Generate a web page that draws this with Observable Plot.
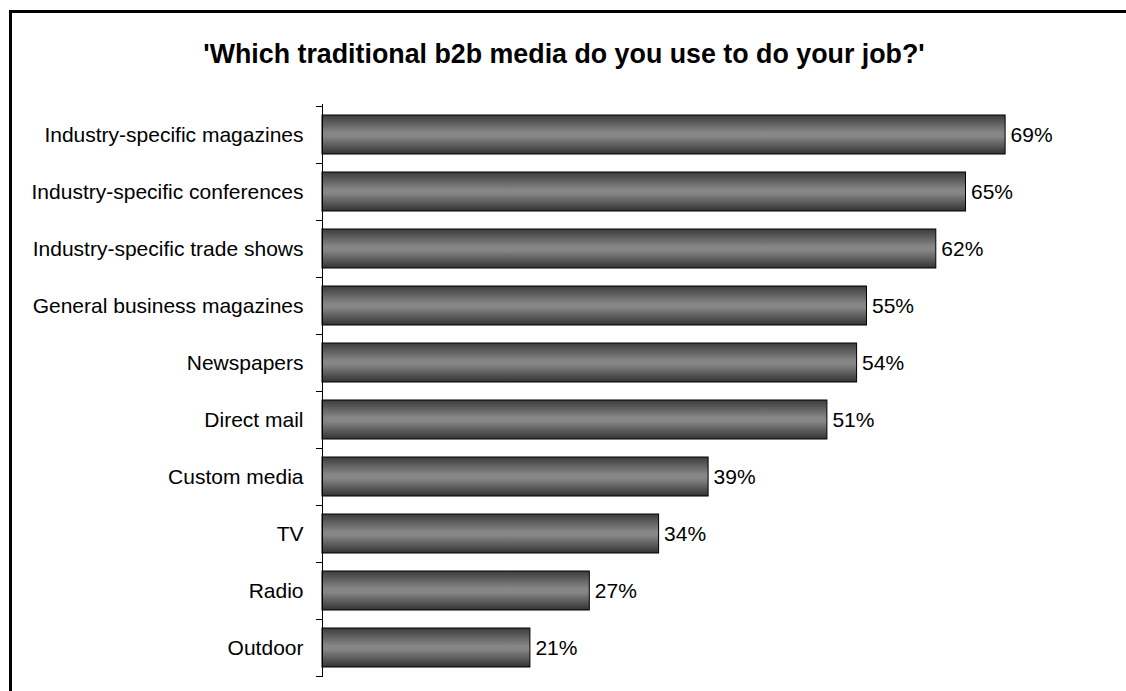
<!DOCTYPE html>
<html>
<head>
<meta charset="utf-8">
<script src="https://cdn.jsdelivr.net/npm/d3@7"></script>
<script src="https://cdn.jsdelivr.net/npm/@observablehq/plot@0.6"></script>
<style>
  html, body { margin: 0; padding: 0; background: #fff; width: 1126px; height: 691px; overflow: hidden; }
  body { position: relative; font-family: "Liberation Sans", Arial, sans-serif; }
  #frame { position: absolute; left: 9px; top: 10px; width: 1200px; height: 800px; border-left: 3px solid #000; border-top: 3px solid #000; }
  #title { position: absolute; left: 0; top: 39px; width: 1128px; text-align: center; font-weight: bold; font-size: 26.8px; color: #000; white-space: nowrap; }
  #chart { position: absolute; left: 0; top: 0; }
</style>
</head>
<body>
<div id="frame"></div>
<div id="title">'Which traditional b2b media do you use to do your job?'</div>
<div id="chart"></div>
<script>
const categories = [
  "Industry-specific magazines",
  "Industry-specific conferences",
  "Industry-specific trade shows",
  "General business magazines",
  "Newspapers",
  "Direct mail",
  "Custom media",
  "TV",
  "Radio",
  "Outdoor"
];
const values = [69, 65, 62, 55, 54, 51, 39, 34, 27, 21];

const data = categories.map((c, i) => ({category: c, value: values[i]}));

const paddingInner = 0.32;

const chart = Plot.plot({
  width: 1126,
  height: 691,
  marginTop: 104,
  marginBottom: 14,
  marginLeft: 322,
  marginRight: 12,
  style: {fontFamily: "'Liberation Sans', Arial, sans-serif", fontSize: "21px", color: "#000", background: "transparent", overflow: "visible"},
  x: {domain: [0, 80], axis: null},
  y: {domain: categories, paddingInner: paddingInner, paddingOuter: paddingInner / 2, label: null},
  marks: [
    Plot.barX(data, {y: "category", x: "value", fill: "#777", stroke: "#000", strokeWidth: 1}),
    Plot.axisY({tickSize: 0, tickPadding: 19, fontSize: 21, fill: "#000", label: null}),
    Plot.ruleX([0], {stroke: "#000", strokeWidth: 1}),
    Plot.text(data, {y: "category", x: "value", text: d => d.value + "%", textAnchor: "start", dx: 5, fontSize: 21, fill: "#000"})
  ]
});

const svg = d3.select(chart);
// gradient definition for bars (vertical shading)
const defs = svg.insert("defs", ":first-child");
const grad = defs.append("linearGradient").attr("id", "barGrad").attr("x1", 0).attr("y1", 0).attr("x2", 0).attr("y2", 1);
grad.append("stop").attr("offset", "0%").attr("stop-color", "#3c3c3c");
grad.append("stop").attr("offset", "45%").attr("stop-color", "#868686");
grad.append("stop").attr("offset", "55%").attr("stop-color", "#868686");
grad.append("stop").attr("offset", "100%").attr("stop-color", "#333333");
svg.selectAll("g[aria-label='bar'] rect").attr("fill", "url(#barGrad)");

// category-boundary tick marks on the y axis, computed from Plot's own scales
const ys = chart.scale("y");
const xs = chart.scale("x");
const x0 = xs.apply(0);
const step = ys.step;
const bounds = categories.map(c => ys.apply(c) - paddingInner * step / 2);
bounds.push(ys.apply(categories[categories.length - 1]) + ys.bandwidth + paddingInner * step / 2);
const tg = svg.append("g").attr("stroke", "#000").attr("stroke-width", 1);
bounds.forEach(b => {
  const yy = Math.round(b) + 0.5;
  tg.append("line").attr("x1", x0 - 6).attr("x2", x0).attr("y1", yy).attr("y2", yy);
});

document.getElementById("chart").appendChild(chart);
</script>
</body>
</html>
